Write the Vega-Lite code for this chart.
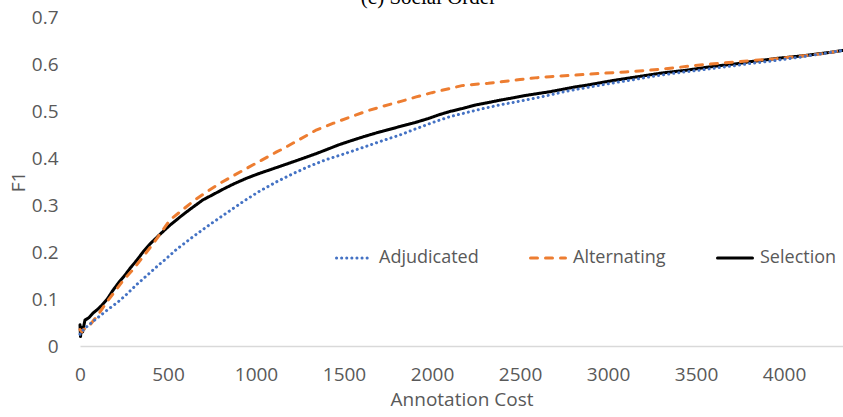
{
  "$schema": "https://vega.github.io/schema/vega-lite/v6.json",
  "width": 763,
  "height": 329,
  "autosize": {"type": "none"},
  "padding": {"left": 80, "top": 17, "right": 0, "bottom": 71},
  "title": {"text": "(c) Social Order", "font": "Liberation Serif", "fontSize": 21, "fontWeight": "normal", "color": "#000000", "anchor": "middle", "dx": -33, "baseline": "alphabetic", "offset": -17},
  "config": {"view": {"stroke": null}, "font": "Open Sans"},
  "data": {"values": [
    {"s":"Selection","x":0,"y":0.045},{"s":"Selection","x":3,"y":0.02},{"s":"Selection","x":8,"y":0.04},{"s":"Selection","x":15,"y":0.03},{"s":"Selection","x":28,"y":0.055},{"s":"Selection","x":50,"y":0.06},{"s":"Selection","x":74,"y":0.07},{"s":"Selection","x":100,"y":0.078},{"s":"Selection","x":125,"y":0.087},{"s":"Selection","x":155,"y":0.1},{"s":"Selection","x":188,"y":0.119},{"s":"Selection","x":220,"y":0.135},{"s":"Selection","x":256,"y":0.151},{"s":"Selection","x":290,"y":0.168},{"s":"Selection","x":324,"y":0.183},{"s":"Selection","x":358,"y":0.2},{"s":"Selection","x":400,"y":0.218},{"s":"Selection","x":450,"y":0.236},{"s":"Selection","x":511,"y":0.257},{"s":"Selection","x":580,"y":0.278},{"s":"Selection","x":640,"y":0.295},{"s":"Selection","x":699,"y":0.311},{"s":"Selection","x":760,"y":0.323},{"s":"Selection","x":820,"y":0.335},{"s":"Selection","x":880,"y":0.346},{"s":"Selection","x":947,"y":0.357},{"s":"Selection","x":1010,"y":0.366},{"s":"Selection","x":1080,"y":0.375},{"s":"Selection","x":1150,"y":0.384},{"s":"Selection","x":1212,"y":0.392},{"s":"Selection","x":1280,"y":0.401},{"s":"Selection","x":1340,"y":0.409},{"s":"Selection","x":1402,"y":0.418},{"s":"Selection","x":1470,"y":0.428},{"s":"Selection","x":1534,"y":0.436},{"s":"Selection","x":1600,"y":0.444},{"s":"Selection","x":1680,"y":0.453},{"s":"Selection","x":1750,"y":0.46},{"s":"Selection","x":1818,"y":0.467},{"s":"Selection","x":1900,"y":0.475},{"s":"Selection","x":1980,"y":0.484},{"s":"Selection","x":2040,"y":0.492},{"s":"Selection","x":2102,"y":0.499},{"s":"Selection","x":2180,"y":0.506},{"s":"Selection","x":2250,"y":0.513},{"s":"Selection","x":2320,"y":0.518},{"s":"Selection","x":2386,"y":0.523},{"s":"Selection","x":2460,"y":0.528},{"s":"Selection","x":2530,"y":0.533},{"s":"Selection","x":2600,"y":0.537},{"s":"Selection","x":2670,"y":0.541},{"s":"Selection","x":2740,"y":0.546},{"s":"Selection","x":2810,"y":0.551},{"s":"Selection","x":2880,"y":0.555},{"s":"Selection","x":2955,"y":0.56},{"s":"Selection","x":3030,"y":0.565},{"s":"Selection","x":3100,"y":0.569},{"s":"Selection","x":3170,"y":0.573},{"s":"Selection","x":3239,"y":0.577},{"s":"Selection","x":3310,"y":0.581},{"s":"Selection","x":3380,"y":0.584},{"s":"Selection","x":3450,"y":0.587},{"s":"Selection","x":3523,"y":0.591},{"s":"Selection","x":3600,"y":0.595},{"s":"Selection","x":3670,"y":0.598},{"s":"Selection","x":3740,"y":0.601},{"s":"Selection","x":3807,"y":0.605},{"s":"Selection","x":3880,"y":0.608},{"s":"Selection","x":3960,"y":0.612},{"s":"Selection","x":4040,"y":0.615},{"s":"Selection","x":4120,"y":0.618},{"s":"Selection","x":4200,"y":0.622},{"s":"Selection","x":4270,"y":0.625},{"s":"Selection","x":4335,"y":0.629},
    {"s":"Alternating","x":0,"y":0.035},{"s":"Alternating","x":10,"y":0.03},{"s":"Alternating","x":17,"y":0.034},{"s":"Alternating","x":40,"y":0.04},{"s":"Alternating","x":57,"y":0.045},{"s":"Alternating","x":100,"y":0.065},{"s":"Alternating","x":153,"y":0.094},{"s":"Alternating","x":200,"y":0.117},{"s":"Alternating","x":246,"y":0.14},{"s":"Alternating","x":300,"y":0.162},{"s":"Alternating","x":358,"y":0.19},{"s":"Alternating","x":420,"y":0.22},{"s":"Alternating","x":511,"y":0.268},{"s":"Alternating","x":580,"y":0.289},{"s":"Alternating","x":650,"y":0.31},{"s":"Alternating","x":720,"y":0.328},{"s":"Alternating","x":790,"y":0.345},{"s":"Alternating","x":860,"y":0.36},{"s":"Alternating","x":947,"y":0.378},{"s":"Alternating","x":1030,"y":0.395},{"s":"Alternating","x":1117,"y":0.413},{"s":"Alternating","x":1155,"y":0.42},{"s":"Alternating","x":1250,"y":0.44},{"s":"Alternating","x":1345,"y":0.46},{"s":"Alternating","x":1440,"y":0.474},{"s":"Alternating","x":1534,"y":0.487},{"s":"Alternating","x":1630,"y":0.5},{"s":"Alternating","x":1720,"y":0.51},{"s":"Alternating","x":1818,"y":0.52},{"s":"Alternating","x":1910,"y":0.53},{"s":"Alternating","x":2000,"y":0.539},{"s":"Alternating","x":2102,"y":0.548},{"s":"Alternating","x":2170,"y":0.554},{"s":"Alternating","x":2250,"y":0.557},{"s":"Alternating","x":2320,"y":0.559},{"s":"Alternating","x":2386,"y":0.562},{"s":"Alternating","x":2500,"y":0.567},{"s":"Alternating","x":2600,"y":0.571},{"s":"Alternating","x":2670,"y":0.573},{"s":"Alternating","x":2800,"y":0.576},{"s":"Alternating","x":2955,"y":0.58},{"s":"Alternating","x":3100,"y":0.583},{"s":"Alternating","x":3239,"y":0.587},{"s":"Alternating","x":3380,"y":0.592},{"s":"Alternating","x":3523,"y":0.598},{"s":"Alternating","x":3650,"y":0.602},{"s":"Alternating","x":3807,"y":0.607},{"s":"Alternating","x":3950,"y":0.611},{"s":"Alternating","x":4100,"y":0.617},{"s":"Alternating","x":4220,"y":0.622},{"s":"Alternating","x":4335,"y":0.629},
    {"s":"Adjudicated","x":0,"y":0.025},{"s":"Adjudicated","x":20,"y":0.035},{"s":"Adjudicated","x":57,"y":0.047},{"s":"Adjudicated","x":100,"y":0.06},{"s":"Adjudicated","x":150,"y":0.075},{"s":"Adjudicated","x":227,"y":0.097},{"s":"Adjudicated","x":265,"y":0.11},{"s":"Adjudicated","x":320,"y":0.13},{"s":"Adjudicated","x":380,"y":0.15},{"s":"Adjudicated","x":455,"y":0.175},{"s":"Adjudicated","x":472,"y":0.18},{"s":"Adjudicated","x":550,"y":0.206},{"s":"Adjudicated","x":644,"y":0.233},{"s":"Adjudicated","x":740,"y":0.259},{"s":"Adjudicated","x":833,"y":0.283},{"s":"Adjudicated","x":930,"y":0.308},{"s":"Adjudicated","x":1023,"y":0.33},{"s":"Adjudicated","x":1120,"y":0.35},{"s":"Adjudicated","x":1212,"y":0.367},{"s":"Adjudicated","x":1300,"y":0.382},{"s":"Adjudicated","x":1402,"y":0.397},{"s":"Adjudicated","x":1470,"y":0.405},{"s":"Adjudicated","x":1534,"y":0.413},{"s":"Adjudicated","x":1620,"y":0.424},{"s":"Adjudicated","x":1720,"y":0.437},{"s":"Adjudicated","x":1818,"y":0.449},{"s":"Adjudicated","x":1900,"y":0.461},{"s":"Adjudicated","x":2000,"y":0.475},{"s":"Adjudicated","x":2102,"y":0.488},{"s":"Adjudicated","x":2200,"y":0.497},{"s":"Adjudicated","x":2300,"y":0.506},{"s":"Adjudicated","x":2386,"y":0.513},{"s":"Adjudicated","x":2500,"y":0.521},{"s":"Adjudicated","x":2580,"y":0.527},{"s":"Adjudicated","x":2670,"y":0.534},{"s":"Adjudicated","x":2750,"y":0.541},{"s":"Adjudicated","x":2850,"y":0.548},{"s":"Adjudicated","x":2955,"y":0.555},{"s":"Adjudicated","x":3050,"y":0.561},{"s":"Adjudicated","x":3150,"y":0.567},{"s":"Adjudicated","x":3239,"y":0.573},{"s":"Adjudicated","x":3330,"y":0.578},{"s":"Adjudicated","x":3430,"y":0.583},{"s":"Adjudicated","x":3523,"y":0.587},{"s":"Adjudicated","x":3620,"y":0.592},{"s":"Adjudicated","x":3710,"y":0.596},{"s":"Adjudicated","x":3807,"y":0.601},{"s":"Adjudicated","x":3900,"y":0.605},{"s":"Adjudicated","x":4000,"y":0.61},{"s":"Adjudicated","x":4100,"y":0.615},{"s":"Adjudicated","x":4200,"y":0.621},{"s":"Adjudicated","x":4335,"y":0.629}
  ]},
  "mark": {"type": "line", "strokeWidth": 3, "strokeCap": "round", "strokeJoin": "round", "interpolate": "linear"},
  "encoding": {
    "x": {"field": "x", "type": "quantitative", "title": "Annotation Cost",
      "scale": {"domain": [0, 4335], "nice": false, "zero": false},
      "axis": {"values": [0, 500, 1000, 1500, 2000, 2500, 3000, 3500, 4000], "format": "d", "grid": false, "ticks": false, "domain": true, "domainColor": "#d9d9d9", "domainWidth": 1.5, "labelFontSize": 19, "labelColor": "#595959", "labelPadding": 19, "labelFont": "Open Sans", "titleFont": "Open Sans", "titleFontSize": 19, "titleFontWeight": "normal", "titleColor": "#595959", "titlePadding": 6, "labelFlush": false}},
    "y": {"field": "y", "type": "quantitative", "title": "F1",
      "scale": {"domain": [0, 0.7], "nice": false},
      "axis": {"values": [0, 0.1, 0.2, 0.3, 0.4, 0.5, 0.6, 0.7], "format": ".1~f", "grid": false, "ticks": false, "domain": false, "labelFontSize": 19, "labelColor": "#595959", "labelPadding": 22, "labelFont": "Open Sans", "titleFont": "Open Sans", "titleFontSize": 19, "titleFontWeight": "normal", "titleColor": "#595959", "titlePadding": 3, "labelFlush": false}},
    "color": {"field": "s", "type": "nominal",
      "scale": {"domain": ["Adjudicated", "Alternating", "Selection"], "range": ["#4472C4", "#ED7D31", "#000000"]},
      "legend": {"title": null, "orient": "none", "legendX": 255, "legendY": 222, "direction": "horizontal", "symbolType": "stroke", "symbolSize": 1225, "symbolStrokeWidth": 3, "labelFontSize": 18, "labelColor": "#595959", "labelFont": "Open Sans", "labelOffset": 6, "columnPadding": 45, "labelLimit": 300,
        "encode": {"symbols": {"update": {"strokeCap": {"value": "round"}}}}}},
    "strokeDash": {"field": "s", "type": "nominal",
      "scale": {"domain": ["Adjudicated", "Alternating", "Selection"], "range": [[0.1, 5], [7, 8], [1, 0]]}}
  }
}
